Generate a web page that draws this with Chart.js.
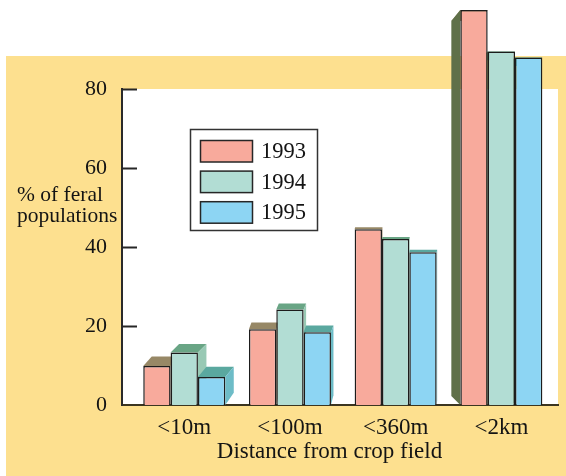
<!DOCTYPE html>
<html>
<head>
<meta charset="utf-8">
<script src="https://cdn.jsdelivr.net/npm/chart.js@4.4.1/dist/chart.umd.min.js"></script>
<style>
  html, body { margin: 0; padding: 0; background: #ffffff; }
  canvas { display: block; }
</style>
</head>
<body>
<canvas id="chart" width="566" height="476"></canvas>
<script>
// ---- data ----
const categories = ['<10m', '<100m', '<360m', '<2km'];
const years = ['1993', '1994', '1995'];
const values1993 = [9.9, 19.2, 44.5, 100];
const values1994 = [13.3, 24.2, 42.0, 89.5];
const values1995 = [7.1, 18.4, 38.7, 88.0];
const yTickValues = [0, 20, 40, 60, 80];
const yTitleLines = ['% of feral', 'populations'];
const xTitle = 'Distance from crop field';

// ---- styles ----
const SERIF = '"Liberation Serif", "Times New Roman", serif';
const INK = '#141414';
const PAPER = '#FDE08F';
const seriesStyle = [
  { front: '#F8AA9C', top: '#978866', side: '#A08C70', left: '#5F7049' },
  { front: '#B2DDD4', top: '#69A585', side: '#98C9B4', left: '#5F7049' },
  { front: '#8DD5F3', top: '#5AA89F', side: '#6DBCC7', left: '#5F7049' }
];
// extrusion of each group: horizontal shift, and a vertical pull towards a line
const groupDepth = [
  { dx: 8.5, c: 0.075, vy: 240 },
  { dx: 2.5, c: 0.04, vy: 160 },
  { dx: 0.5, c: 0.015, vy: 100 },
  { dx: -9, c: 0.0506, vy: 227 }
];

const seriesValues = [values1993, values1994, values1995];

const frame = {
  id: 'frame',
  beforeDraw(chart) {
    const { ctx, chartArea: a } = chart;
    ctx.save();
    ctx.fillStyle = '#ffffff';
    ctx.fillRect(0, 0, chart.width, chart.height);
    ctx.fillStyle = PAPER;
    ctx.fillRect(6, 56, chart.width - 6, chart.height - 56);
    ctx.fillStyle = '#ffffff';
    ctx.fillRect(a.left, a.top, a.right - a.left, a.bottom - a.top);
    ctx.restore();
  }
};

function poly(ctx, pts, color) {
  ctx.beginPath();
  ctx.moveTo(pts[0][0], pts[0][1]);
  for (let i = 1; i < pts.length; i++) ctx.lineTo(pts[i][0], pts[i][1]);
  ctx.closePath();
  ctx.fillStyle = color;
  ctx.fill();
}

const extrusion = {
  id: 'extrusion',
  beforeDatasetsDraw(chart) {
    const ctx = chart.ctx;
    ctx.save();
    categories.forEach((_, gi) => {
      const d = groupDepth[gi];
      const back = (x, y) => [x + d.dx, y + d.c * (d.vy - y)];
      chart.data.datasets.forEach((ds, si) => {
        const bar = chart.getDatasetMeta(si).data[gi];
        const p = bar.getProps(['x', 'y', 'base', 'width'], true);
        const l = p.x - p.width / 2, r = p.x + p.width / 2;
        const t = p.y, b = p.base;
        const st = seriesStyle[si];
        poly(ctx, [[l, t], [r, t], back(r, t), back(l, t)], st.top);
        if (d.dx >= 0) {
          poly(ctx, [[r, t], [r, b], back(r, b), back(r, t)], st.side);
        } else {
          poly(ctx, [[l, t], [l, b], back(l, b), back(l, t)], st.left);
        }
      });
    });
    ctx.restore();
  }
};

const decorations = {
  id: 'decorations',
  afterDatasetsDraw(chart) {
    const ctx = chart.ctx;
    const y = chart.scales.y;
    const a = chart.chartArea;
    ctx.save();
    // inner tick marks on the value axis
    ctx.strokeStyle = '#262626';
    ctx.lineWidth = 2;
    yTickValues.slice(1).forEach(v => {
      const py = Math.round(y.getPixelForValue(v)) + 0.5;
      ctx.beginPath();
      ctx.moveTo(a.left, py);
      ctx.lineTo(a.left + 15, py);
      ctx.stroke();
    });
    // value-axis title
    ctx.fillStyle = INK;
    ctx.font = '21.5px ' + SERIF;
    ctx.textAlign = 'left';
    ctx.textBaseline = 'alphabetic';
    ctx.fillText(yTitleLines[0], 17, 201);
    ctx.fillText(yTitleLines[1], 17, 222);
    // category-axis title
    ctx.font = '23px ' + SERIF;
    ctx.textAlign = 'center';
    ctx.fillText(xTitle, 329.5, 458);
    // legend
    const lx = 190.5, ly = 129.5, lw = 127, lh = 101;
    ctx.fillStyle = '#ffffff';
    ctx.fillRect(lx, ly, lw, lh);
    ctx.strokeStyle = '#333333';
    ctx.lineWidth = 1.5;
    ctx.strokeRect(lx, ly, lw, lh);
    ctx.font = '22.5px ' + SERIF;
    ctx.textAlign = 'left';
    ctx.textBaseline = 'middle';
    chart.data.datasets.forEach((ds, i) => {
      const sy = 140.5 + i * 30.6;
      ctx.fillStyle = ds.backgroundColor;
      ctx.fillRect(200.5, sy, 52, 21.5);
      ctx.strokeStyle = '#262626';
      ctx.lineWidth = 1.5;
      ctx.strokeRect(200.5, sy, 52, 21.5);
      ctx.fillStyle = INK;
      ctx.fillText(ds.label, 261, sy + 11.5);
    });
    ctx.restore();
  }
};

new Chart(document.getElementById('chart'), {
  type: 'bar',
  data: {
    datasets: years.map((yr, i) => ({
      label: yr,
      data: seriesValues[i].map((v, k) => ({ x: k, y: v })),
      backgroundColor: seriesStyle[i].front,
      borderColor: '#1c1c1c',
      borderWidth: 1.5,
      categoryPercentage: 0.776,
      barPercentage: 1,
      clip: false
    }))
  },
  options: {
    responsive: false,
    animation: false,
    layout: { padding: { left: 0, right: 8, top: 89, bottom: 0 } },
    plugins: { legend: { display: false }, tooltip: { enabled: false } },
    scales: {
      x: {
        type: 'linear',
        offset: false,
        min: -0.589,
        max: 3.536,
        grid: { display: false },
        border: { display: true, color: '#3b3520', width: 2 },
        afterBuildTicks: s => { s.ticks = categories.map((_, i) => ({ value: i })); },
        afterFit: s => { s.height = 71; },
        ticks: {
          autoSkip: false,
          maxRotation: 0,
          padding: 1,
          color: INK,
          font: { family: SERIF, size: 23 },
          callback: v => categories[v] ?? ''
        }
      },
      y: {
        min: 0,
        max: 80,
        grid: { display: false },
        border: { display: true, color: '#2a2a2a', width: 2 },
        afterBuildTicks: s => { s.ticks = yTickValues.map(v => ({ value: v })); },
        afterFit: s => { s.width = 122; },
        ticks: {
          padding: 7,
          color: INK,
          font: { family: SERIF, size: 22 }
        }
      }
    }
  },
  plugins: [frame, extrusion, decorations]
});
</script>
</body>
</html>
